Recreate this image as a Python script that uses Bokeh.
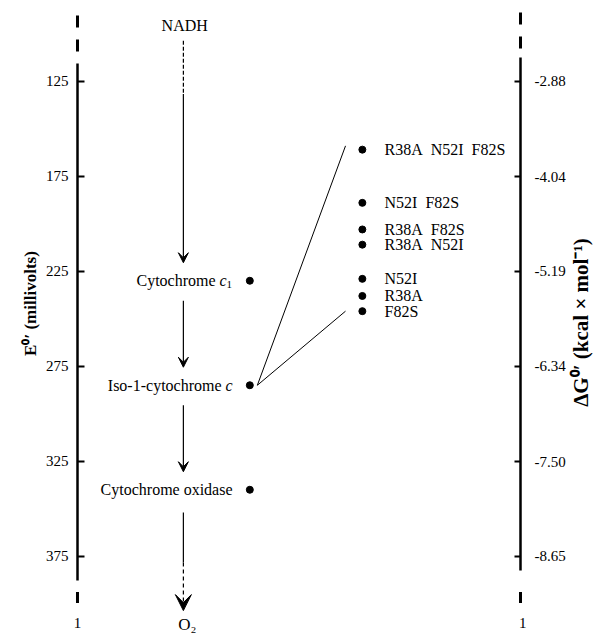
import math
from bokeh.plotting import figure
from bokeh.models import (Range1d, LinearAxis, FixedTicker, NumeralTickFormatter, Arrow,
                          VeeHead, Label)
from bokeh.core.properties import value
from bokeh.embed import file_html
from bokeh.resources import INLINE

# ---------------- data ----------------
chain_names = ["Cytochrome", "Iso-1-cytochrome", "Cytochrome oxidase"]
chain_italic = ["c", "c", ""]
chain_sub = ["1", "", ""]
chain_E = [230, 285, 340]  # E0' in millivolts

NB = "\u00a0"
mutant_labels = ["R38A" + NB + NB + "N52I" + NB + NB + "F82S", "N52I" + NB + NB + "F82S",
                 "R38A" + NB + NB + "F82S", "R38A" + NB + NB + "N52I",
                 "N52I", "R38A", "F82S"]
mutant_E = [161, 189, 203, 211, 229, 238, 246]

E_ticks = [125, 175, 225, 275, 325, 375]
dG_ticks = [-2.88, -4.04, -5.19, -6.34, -7.50, -8.65]
F_KCAL_PER_MV = 0.02306  # Faraday constant, kcal/(mol*mV), n = 1

left_title = "E\u2070\u2032 (millivolts)"
right_title = "\u0394G\u2070\u2032 (kcal \u00d7 mol\u207b\u00b9)"

# ---------------- layout (data units) ----------------
E_TOP, E_BOT = 82.5, 416.7
X_MIN, X_MAX = -17.38, 117.38
AX_L, AX_R = 0.0, 100.0
PATH_X, NAME_X, DOT_X = 23.9, 35.0, 38.9
FAN_X0, FAN_X1 = 40.6, 60.5
MUT_DOT_X, MUT_TXT_X = 64.3, 69.3
NADH_E, O2_E, ONE_E = 95.7, 411.0, 409.9
FONT = "Liberation Serif"

p = figure(width=597, height=635, output_backend="svg", toolbar_location=None,
           x_range=Range1d(X_MIN, X_MAX), y_range=Range1d(E_BOT, E_TOP),
           x_axis_location=None, title=None,
           min_border_left=0, min_border_right=0, min_border_top=0, min_border_bottom=0)
p.grid.visible = False
p.outline_line_color = None
p.background_fill_color = "white"
p.border_fill_color = "white"

# left axis (millivolts), drawn at x = AX_L
ya = p.yaxis[0]
ya.fixed_location = AX_L
ya.ticker = FixedTicker(ticks=E_ticks)
ya.bounds = (115.7, 387.8)
ya.axis_line_width = 2.5
ya.major_tick_in = 7
ya.major_tick_out = 0
ya.major_tick_line_width = 2
ya.minor_tick_line_color = None
ya.major_label_standoff = 9
ya.major_label_text_font = FONT
ya.major_label_text_font_size = "15px"
ya.major_label_text_color = "black"

# right axis (kcal/mol), drawn at x = AX_R
p.extra_y_ranges = {"dg": Range1d(-F_KCAL_PER_MV * E_BOT, -F_KCAL_PER_MV * E_TOP)}
ra = LinearAxis(y_range_name="dg", ticker=FixedTicker(ticks=dG_ticks),
                formatter=NumeralTickFormatter(format="0.00"),
                bounds=(-F_KCAL_PER_MV * 382.5, -F_KCAL_PER_MV * 112.5))
ra.fixed_location = AX_R
ra.axis_line_width = 2.5
ra.major_tick_in = 6
ra.major_tick_out = 0
ra.major_tick_line_width = 2
ra.minor_tick_line_color = None
ra.major_label_standoff = 14
ra.major_label_text_font = FONT
ra.major_label_text_font_size = "15px"
ra.major_label_text_color = "black"
p.add_layout(ra, "right")

# axis titles (both read bottom-to-top)
p.add_layout(Label(x=-10.6, y=242, text=left_title, angle=math.pi / 2, text_align="center",
                   text_baseline="middle", text_font=FONT, text_font_size="17px",
                   text_font_style="bold", text_color="black"))
p.add_layout(Label(x=113.6, y=252, text=right_title, angle=math.pi / 2, text_align="center",
                   text_baseline="middle", text_font=FONT, text_font_size="21px",
                   text_font_style="bold", text_color="black"))

# dashed axis extensions
p.segment(x0=[AX_L, AX_R], y0=[90.4, 88.8], x1=[AX_L, AX_R], y1=[110.0, 110.0],
          line_width=3, line_color="black", line_dash="12 12")
p.segment(x0=[AX_L, AX_R], y0=[393.8, 393.8], x1=[AX_L, AX_R], y1=[399.6, 399.6],
          line_width=3, line_color="black")
p.text(x=[AX_L, AX_R + 0.5], y=[ONE_E, ONE_E], text=["1", "1"], text_font=value(FONT),
       text_font_size="15px", text_align="center", text_baseline="middle", text_color="black")

# electron transport path
p.text(x=[PATH_X + 0.3], y=[NADH_E], text=["NADH"], text_font=value(FONT), text_font_size="16px",
       text_align="center", text_baseline="middle", text_color="black")
p.text(x=[PATH_X], y=[O2_E], text=["O\u2082"], text_font=value(FONT), text_font_size="17px",
       text_align="center", text_baseline="middle", text_color="black", x_offset=4)

GAP_AFTER, GAP_BEFORE = 10.5, 9.5
# NADH -> cytochrome c1 : dotted start then solid arrow
p.segment(x0=[PATH_X], y0=[NADH_E + 8], x1=[PATH_X], y1=[NADH_E + 36],
          line_width=1.2, line_color="black", line_dash="4 2")
p.add_layout(Arrow(x_start=PATH_X, y_start=NADH_E + 36, x_end=PATH_X, y_end=chain_E[0] - GAP_BEFORE,
                   line_width=1.2, line_color="black",
                   end=VeeHead(size=10, fill_color="black", line_color="black", line_width=1)))
for a, b in zip(chain_E[:-1], chain_E[1:]):
    p.add_layout(Arrow(x_start=PATH_X, y_start=a + GAP_AFTER, x_end=PATH_X, y_end=b - GAP_BEFORE,
                       line_width=1.2, line_color="black",
                       end=VeeHead(size=10, fill_color="black", line_color="black", line_width=1)))
# cytochrome oxidase -> O2 : solid then dashed arrow
p.segment(x0=[PATH_X], y0=[chain_E[-1] + 12], x1=[PATH_X], y1=[chain_E[-1] + 38.3],
          line_width=1.2, line_color="black")
p.add_layout(Arrow(x_start=PATH_X, y_start=chain_E[-1] + 38.3, x_end=PATH_X, y_end=O2_E - 7.4,
                   line_width=1.2, line_color="black", line_dash="4 3",
                   end=VeeHead(size=16, fill_color="black", line_color="black", line_width=1)))

# chain labels (name + italic letter + subscript)
for name, it, sub, e in zip(chain_names, chain_italic, chain_sub, chain_E):
    off = 0
    if sub:
        p.text(x=[NAME_X], y=[e], text=[sub], text_font=value(FONT), text_font_size="11px",
               text_align="left", text_baseline="middle", text_color="black", x_offset=-6, y_offset=4)
        off = -6
    if it:
        p.text(x=[NAME_X], y=[e], text=[it], text_font=value(FONT), text_font_size="16px",
               text_font_style="italic", text_align="right", text_baseline="middle",
               text_color="black", x_offset=off)
        off -= 11
    p.text(x=[NAME_X], y=[e], text=[name], text_font=value(FONT), text_font_size="16px",
           text_align="right", text_baseline="middle", text_color="black", x_offset=off)
p.scatter(x=[DOT_X] * len(chain_E), y=chain_E, size=7, color="black")

# fan from iso-1-cytochrome c to the mutant range
iso_E = chain_E[1]
p.segment(x0=[FAN_X0, FAN_X0], y0=[iso_E, iso_E], x1=[FAN_X1, FAN_X1],
          y1=[min(mutant_E) - 2, max(mutant_E)], line_width=1, line_color="black")

# mutants
p.scatter(x=[MUT_DOT_X] * len(mutant_E), y=mutant_E, size=7, color="black")
p.text(x=[MUT_TXT_X] * len(mutant_E), y=mutant_E, text=mutant_labels, text_font=value(FONT),
       text_font_size="16px", text_align="left", text_baseline="middle", text_color="black")

open("out.html", "w").write(file_html(p, INLINE))
